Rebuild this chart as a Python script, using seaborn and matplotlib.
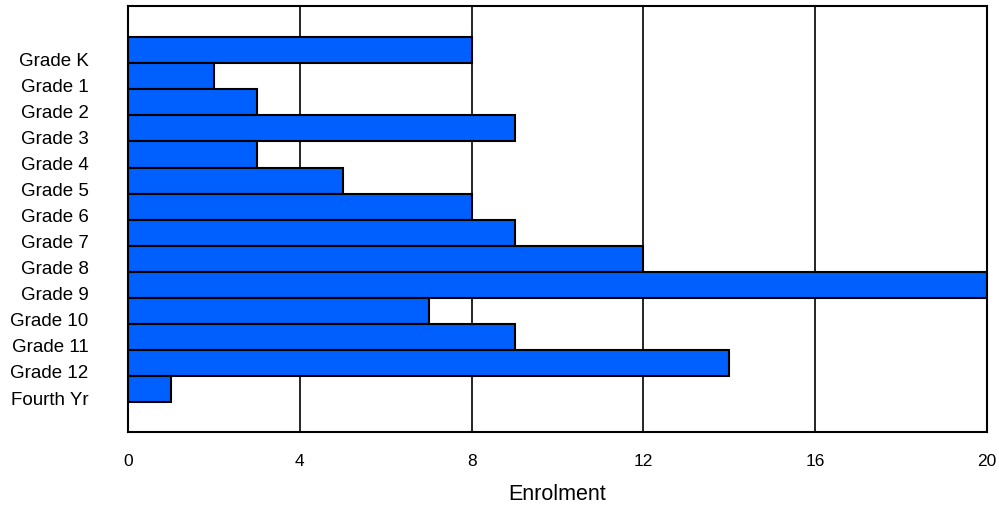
import matplotlib
matplotlib.use("Agg")
import matplotlib.pyplot as plt
import matplotlib.transforms as mtransforms
import seaborn as sns
import pandas as pd

grades = ["Grade K", "Grade 1", "Grade 2", "Grade 3", "Grade 4", "Grade 5", "Grade 6",
          "Grade 7", "Grade 8", "Grade 9", "Grade 10", "Grade 11", "Grade 12", "Fourth Yr"]
enrolment = [8, 2, 3, 9, 3, 5, 8, 9, 12, 20, 7, 9, 14, 1]
x_ticks = [0, 4, 8, 12, 16, 20]

sns.set_theme(style="white")
plt.rcParams['font.family'] = ['Liberation Sans', 'DejaVu Sans']
plt.rcParams['text.color'] = 'black'
plt.rcParams['xtick.color'] = 'black'
plt.rcParams['ytick.color'] = 'black'
plt.rcParams['axes.labelcolor'] = 'black'

df = pd.DataFrame({"grade": grades, "enrolment": enrolment})

fig = plt.figure(figsize=(9.99, 5.06), dpi=100)
ax = fig.add_axes([128/999, 1 - 433/506, (987-128)/999, (433-7)/506])

ax.set_axisbelow(True)
ax.grid(axis="x", color="black", linewidth=1.2)
ax.grid(axis="y", visible=False)

sns.barplot(data=df, x="enrolment", y="grade", orient="h", color="#0060FF",
            saturation=1, width=1.0, edgecolor="black", linewidth=1.5, ax=ax)

ax.set_xlim(0, 20)
ax.set_ylim(14.65, -1.7)
ax.set_xticks(x_ticks)
ax.set_xticklabels([str(v) for v in x_ticks], fontsize=12.5)
ax.tick_params(axis="x", length=0, pad=15, colors="black")
ax.tick_params(axis="y", length=0, pad=28.5, colors="black")
ax.set_yticks(range(len(grades)))
ax.set_yticklabels(grades, fontsize=13.5)
offset = mtransforms.ScaledTranslation(0, -8/100, fig.dpi_scale_trans)
for lbl in ax.get_yticklabels():
    lbl.set_transform(lbl.get_transform() + offset)
ax.set_ylabel("")
ax.set_xlabel("Enrolment", fontsize=15.5, labelpad=11, color="black")

for s in ax.spines.values():
    s.set_visible(True)
    s.set_color("black")
    s.set_linewidth(1.5)

fig.savefig("out.png", dpi=100, facecolor="white")
